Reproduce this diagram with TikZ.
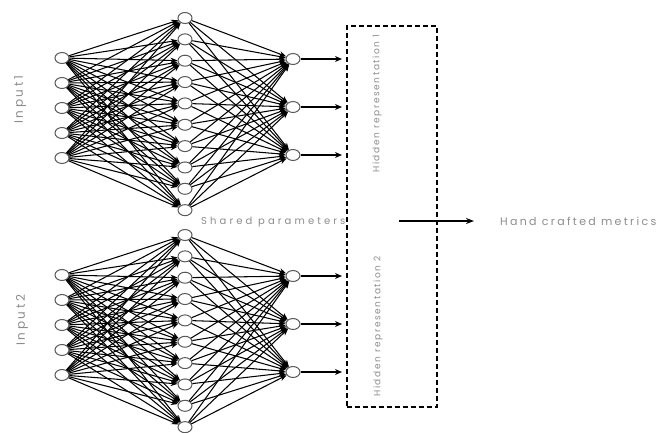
\documentclass[tikz,border=0pt]{standalone}
\usepackage{fontspec}
\setmainfont{Poppins}
\usetikzlibrary{arrows.meta,shapes.geometric}
\begin{document}
\begin{tikzpicture}[x=1pt,y=-1pt,
  neuron/.style={ellipse,draw=black!65,line width=1pt,fill=white,minimum width=14pt,minimum height=11pt,inner sep=0pt},
  conn/.style={line width=1.05pt,-{Stealth[length=7pt,width=5.5pt]}},
  lbl/.style={text=black!45,inner sep=0pt},
  dbox/.style={draw,line width=2.2pt,dash pattern=on 5pt off 3pt}]
\useasboundingbox (0,0) rectangle (670,432);
\foreach \p/\dy in {t/0,b/217}{
  \foreach \i in {1,...,5}
    \node[neuron] (\p-i\i) at (62,{58+25*(\i-1)+\dy}) {};
  \foreach \j in {1,...,10}
    \node[neuron] (\p-h\j) at (185,{18+21.35*(\j-1)+\dy}) {};
  \foreach \k in {1,...,3}
    \node[neuron] (\p-o\k) at (293,{59+48*(\k-1)+\dy}) {};
  \foreach \i in {1,...,5}
    \foreach \j in {1,...,10}
      \draw[conn] (\p-i\i) -- (\p-h\j);
  \foreach \j in {1,...,10}
    \foreach \k in {1,...,3}
      \draw[conn] (\p-h\j) -- (\p-o\k);
  \foreach \k in {1,...,3}
    \coordinate (\p-e\k) at (342,{59+48*(\k-1)+\dy});
  \foreach \k in {1,...,3}
    \draw[line width=1.2pt,-{Stealth[length=7pt,width=6pt]}] (\p-o\k) -- (\p-e\k);
}
\node[dbox,minimum width=90pt,minimum height=381pt,inner sep=0pt] (box) at (392,216.5) {};
\coordinate (ms) at (399,221);
\node[lbl,anchor=west,font=\fontsize{11}{13}\selectfont\addfontfeatures{LetterSpace=21}] (hcm) at (500,221) {Hand crafted metrics};
\coordinate (me) at (474,221);
\draw[line width=1.4pt,-{Stealth[length=8pt,width=6pt]}] (ms) -- (me);
\node[lbl,anchor=west,font=\fontsize{10}{12}\selectfont\addfontfeatures{LetterSpace=31}] (sp) at (201,222) {Shared parameters};
\node[lbl,rotate=90,anchor=west,font=\fontsize{9}{11}\selectfont\addfontfeatures{LetterSpace=18}] (hr1) at (377,173) {Hidden representation 1};
\node[lbl,rotate=90,anchor=west,font=\fontsize{9}{11}\selectfont\addfontfeatures{LetterSpace=18}] (hr2) at (378,397) {Hidden representation 2};
\node[lbl,rotate=90,anchor=west,font=\fontsize{12}{14}\selectfont\addfontfeatures{LetterSpace=22}] (in1) at (20,124) {Input1};
\node[lbl,rotate=90,anchor=west,font=\fontsize{12}{14}\selectfont\addfontfeatures{LetterSpace=22}] (in2) at (22,346) {Input2};
\end{tikzpicture}
\end{document}
